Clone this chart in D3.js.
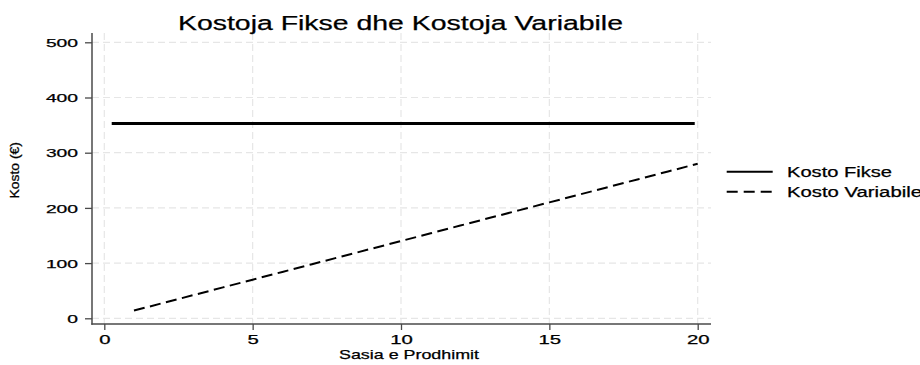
<!DOCTYPE html>
<html>
<head>
<meta charset="utf-8">
<script src="https://cdn.jsdelivr.net/npm/d3@7"></script>
<style>
  html, body { margin: 0; padding: 0; background: #fff; }
  svg { display: block; }
  text { font-family: "Liberation Sans", Arial, Helvetica, sans-serif; fill: #000; stroke: #000; stroke-width: 0.25; }
</style>
</head>
<body>
<svg id="chart" width="920" height="365"></svg>
<script>
// ---- data ----
const title = "Kostoja Fikse dhe Kostoja Variabile";
const xLabel = "Sasia e Prodhimit";
const yLabel = "Kosto (€)";
const xTicks = [0, 5, 10, 15, 20];
const yTicks = [0, 100, 200, 300, 400, 500];
const fixedX = [0.25, 19.9];
const fixedY = [353, 353];
const variableX = [1, 2, 3, 4, 5, 6, 7, 8, 9, 10, 11, 12, 13, 14, 15, 16, 17, 18, 19, 20];
const variableY = [14, 28, 42, 56, 70, 84, 98, 112, 126, 140, 154, 168, 182, 196, 210, 224, 238, 252, 266, 280];
const seriesNames = ["Kosto Fikse", "Kosto Variabile"];

// ---- layout ----
const svg = d3.select("#chart");
const x = d3.scaleLinear().domain([0, 20]).range([104.3, 697.7]);
const y = d3.scaleLinear().domain([0, 500]).range([318.3, 42.3]);
const axisX = 92, axisY = 324, plotTop = 33, plotRight = 711;
const axisColor = "#4a4a4a";
const gridColor = "#e6e6e6";

// gridlines
svg.append("g").selectAll("line").data(yTicks).join("line")
  .attr("x1", axisX).attr("x2", plotRight)
  .attr("y1", d => y(d)).attr("y2", d => y(d))
  .attr("stroke", gridColor).attr("stroke-width", 1.2).attr("stroke-dasharray", "7,4");
svg.append("g").selectAll("line").data(xTicks).join("line")
  .attr("x1", d => x(d)).attr("x2", d => x(d))
  .attr("y1", plotTop).attr("y2", axisY)
  .attr("stroke", gridColor).attr("stroke-width", 1.2).attr("stroke-dasharray", "7,4");

// axes via d3 axis generators
const yAxis = d3.axisLeft(y).tickValues(yTicks).tickSize(7).tickPadding(7).tickFormat(d3.format("d"));
const xAxis = d3.axisBottom(x).tickValues(xTicks).tickSize(6).tickPadding(5).tickFormat(d3.format("d"));

const gy = svg.append("g").attr("transform", `translate(${axisX},0)`).call(yAxis);
gy.select(".domain").remove();
gy.selectAll(".tick line").attr("stroke", axisColor).attr("stroke-width", 1.3);
gy.selectAll(".tick text")
  .attr("font-size", 11.5).attr("fill", "#111")
  .attr("font-family", "'Liberation Sans', Arial, sans-serif")
  .attr("dy", "0.36em")
  .attr("textLength", d => String(d).length * 10.7)
  .attr("lengthAdjust", "spacingAndGlyphs");

const gx = svg.append("g").attr("transform", `translate(0,${axisY})`).call(xAxis);
gx.select(".domain").remove();
gx.selectAll(".tick line").attr("stroke", axisColor).attr("stroke-width", 1.3);
gx.selectAll(".tick text")
  .attr("font-size", 12).attr("fill", "#111")
  .attr("font-family", "'Liberation Sans', Arial, sans-serif")
  .attr("dy", "0.72em")
  .attr("textLength", d => String(d).length * 11.3)
  .attr("lengthAdjust", "spacingAndGlyphs");

// axis lines
svg.append("line").attr("x1", axisX).attr("x2", axisX).attr("y1", plotTop).attr("y2", axisY + 0.7)
  .attr("stroke", axisColor).attr("stroke-width", 1.5);
svg.append("line").attr("x1", axisX - 0.7).attr("x2", plotRight).attr("y1", axisY).attr("y2", axisY)
  .attr("stroke", axisColor).attr("stroke-width", 1.5);

// series
const line = d3.line().x(d => x(d[0])).y(d => y(d[1]));
svg.append("path")
  .datum(d3.zip(fixedX, fixedY))
  .attr("d", line).attr("fill", "none")
  .attr("stroke", "#000").attr("stroke-width", 3);
svg.append("path")
  .datum(d3.zip(variableX, variableY))
  .attr("d", line).attr("fill", "none")
  .attr("stroke", "#000").attr("stroke-width", 2).attr("stroke-dasharray", "11,5.5");

// titles
svg.append("text").attr("x", 178).attr("y", 30)
  .attr("font-size", 20.5).attr("textLength", 445).attr("lengthAdjust", "spacingAndGlyphs")
  .text(title);
svg.append("text").attr("x", 339).attr("y", 359)
  .attr("font-size", 13).attr("textLength", 140).attr("lengthAdjust", "spacingAndGlyphs")
  .text(xLabel);
svg.append("text")
  .attr("transform", "translate(18.5,198.5) rotate(-90)")
  .attr("font-size", 12).attr("textLength", 56.5).attr("lengthAdjust", "spacingAndGlyphs")
  .text(yLabel);

// legend
const legend = svg.append("g");
const legendRows = [
  { name: seriesNames[0], dash: null, width: 2, y: 171.7, len: 105 },
  { name: seriesNames[1], dash: "11,6", width: 2, y: 191.7, len: 135 }
];
legendRows.forEach(r => {
  legend.append("line").attr("x1", 726.7).attr("x2", 772.7).attr("y1", r.y).attr("y2", r.y)
    .attr("stroke", "#000").attr("stroke-width", r.width)
    .attr("stroke-dasharray", r.dash);
  legend.append("text").attr("x", 787).attr("y", r.y + 5)
    .attr("font-size", 14).attr("textLength", r.len).attr("lengthAdjust", "spacingAndGlyphs")
    .text(r.name);
});
</script>
</body>
</html>
